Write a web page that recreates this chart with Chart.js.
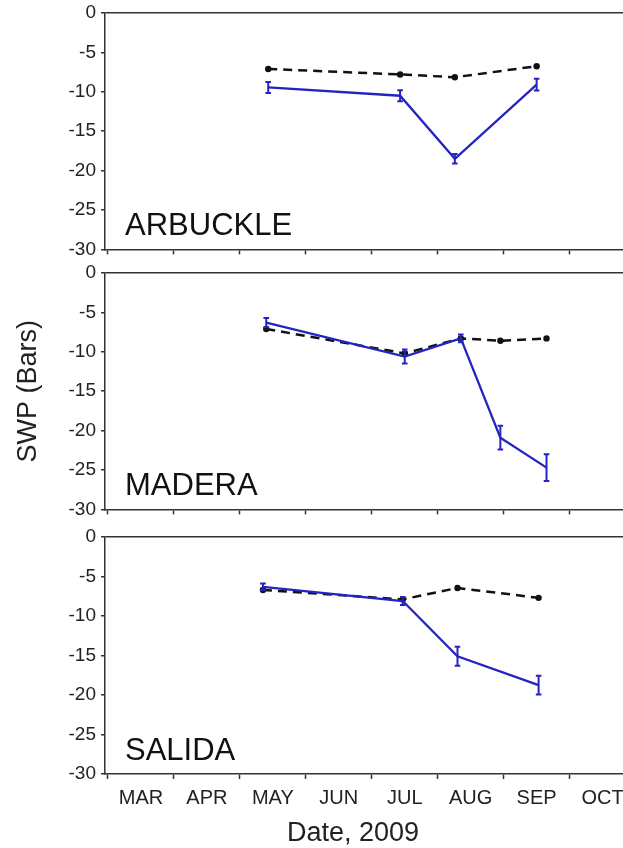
<!DOCTYPE html>
<html><head><meta charset="utf-8">
<script src="https://cdn.jsdelivr.net/npm/chart.js@4.4.0/dist/chart.umd.min.js"></script>
<style>
html,body{margin:0;padding:0;background:#fff;overflow:hidden;width:623px;height:848px;}
#wrap{position:relative;width:660px;height:848px;}
.panel{position:absolute;left:0;}
</style></head><body>
<div id="wrap">
<div class="panel" style="top:0px"><canvas id="c1" width="660" height="262"></canvas></div>
<div class="panel" style="top:260px"><canvas id="c2" width="660" height="262"></canvas></div>
<div class="panel" style="top:524px"><canvas id="c3" width="660" height="324"></canvas></div>
</div>
<script>
// Month categories (tick positions are month starts: 0 = Mar 1)
const months = ['MAR','APR','MAY','JUN','JUL','AUG','SEP','OCT'];
const yTickStep = 5;

// ARBUCKLE (dates in months since Mar 1)
const arbDates    = [2.43, 4.43, 5.26, 6.50];
const arbControl  = [-7.1, -7.8, -8.15, -6.75];
const arbStressed = [-9.45, -10.5, -18.5, -9.1];
const arbErr      = [0.7, 0.7, 0.6, 0.75];

// MADERA
const madDates    = [2.40, 4.50, 5.35, 5.95, 6.65];
const madControl  = [-7.1, -10.2, -8.3, -8.6, -8.3];
const madStressed = [-6.3, -10.6, -8.3, -20.9, -24.7];
const madErr      = [0.6, 0.9, 0.5, 1.5, 1.7];

// SALIDA
const salDates    = [2.35, 4.47, 5.30, 6.53];
const salControl  = [-6.7, -7.9, -6.45, -7.7];
const salStressed = [-6.3, -8.1, -15.1, -18.75];
const salErr      = [0.4, 0.5, 1.2, 1.2];

const FONT = '"Liberation Sans", Arial, sans-serif';
const INK = '#222';
const BLUE = '#2424c0';

const errorBars = {
  id: 'errorBars',
  afterDatasetsDraw(chart) {
    const ctx = chart.ctx, ys = chart.scales.y;
    chart.data.datasets.forEach((ds, di) => {
      if (!ds.errors) return;
      const meta = chart.getDatasetMeta(di);
      ctx.save();
      ctx.strokeStyle = ds.borderColor;
      ctx.lineWidth = 2;
      meta.data.forEach((pt, i) => {
        const v = ds.data[i].y, e = ds.errors[i];
        const top = ys.getPixelForValue(v + e), bot = ys.getPixelForValue(v - e), x = pt.x;
        ctx.beginPath();
        ctx.moveTo(x, top); ctx.lineTo(x, bot);
        ctx.moveTo(x - 2.8, top); ctx.lineTo(x + 2.8, top);
        ctx.moveTo(x - 2.8, bot); ctx.lineTo(x + 2.8, bot);
        ctx.stroke();
      });
      ctx.restore();
    });
  }
};

const siteLabel = {
  id: 'siteLabel',
  afterDraw(chart, args, opts) {
    const {ctx, chartArea} = chart;
    ctx.save();
    ctx.font = '31px ' + FONT;
    ctx.fillStyle = '#111';
    ctx.textBaseline = 'alphabetic';
    ctx.textAlign = 'left';
    ctx.fillText(opts.text, chartArea.left + 20, chartArea.bottom - 14);
    if (opts.caption) {
      ctx.font = '27px ' + FONT;
      ctx.fillStyle = INK;
      ctx.textAlign = 'center';
      ctx.textBaseline = 'middle';
      ctx.fillText(opts.caption, chartArea.left + 248, chartArea.bottom + 60);
    }
    ctx.restore();
  }
};

const xTickValues = [];
months.forEach((m, i) => { xTickValues.push(i, i + 0.5); });
xTickValues.push(months.length);

function makeChart(id, site, dates, control, stressed, errs, cfg) {
  const stressedData = dates.map((d, i) => ({x: d, y: stressed[i]}));
  const controlData = dates.map((d, i) => ({x: d, y: control[i]}));
  new Chart(document.getElementById(id), {
    type: 'line',
    data: {
      datasets: [
        {
          label: 'Stressed', data: stressedData, errors: errs,
          borderColor: BLUE, backgroundColor: BLUE, borderWidth: 2.3,
          pointRadius: 0, tension: 0, fill: false
        },
        {
          label: 'Control', data: controlData,
          borderColor: '#111', backgroundColor: '#111', borderWidth: 2.5,
          borderDash: [9, 6], pointRadius: 3.2, pointBorderWidth: 0,
          pointBackgroundColor: '#111', tension: 0, fill: false
        }
      ]
    },
    options: {
      responsive: false,
      animation: false,
      layout: {padding: {top: 13, left: 0, right: 0, bottom: 0}},
      plugins: {
        legend: {display: false},
        tooltip: {enabled: false},
        siteLabel: {text: site, caption: cfg.caption}
      },
      scales: {
        x: {
          type: 'linear',
          min: -0.045, max: 8.31,
          afterBuildTicks: s => { s.ticks = xTickValues.map(v => ({value: v})); },
          afterFit: s => { s.height = cfg.xHeight; },
          ticks: {
            display: cfg.showX,
            autoSkip: false, maxRotation: 0, minRotation: 0,
            padding: 7,
            color: INK,
            font: {family: FONT, size: 20},
            callback: v => Number.isInteger(v) ? '' : (months[Math.floor(v)] || '')
          },
          grid: {
            drawOnChartArea: false, drawTicks: true, tickLength: 5,
            tickWidth: 1.5,
            tickColor: c => (c.tick && Number.isInteger(c.tick.value)) ? '#333' : 'rgba(0,0,0,0)'
          },
          border: {display: true, color: '#333', width: 1.5}
        },
        y: {
          type: 'linear',
          min: -30, max: 0,
          afterFit: s => { s.width = 105; },
          ticks: {
            stepSize: yTickStep, color: INK, padding: 5,
            font: {family: FONT, size: 19, lineHeight: 0.8}
          },
          grid: {
            drawOnChartArea: true,
            color: c => (c.tick && c.tick.value === 0) ? '#333' : 'rgba(0,0,0,0)',
            lineWidth: 1.5,
            drawTicks: true, tickLength: 4, tickColor: '#333', tickWidth: 1.5
          },
          border: {display: true, color: '#333', width: 1.5},
          title: cfg.showY ? {
            display: true, text: 'SWP (Bars)', color: INK,
            font: {family: FONT, size: 27}, padding: {top: 12, bottom: 0}
          } : {display: false}
        }
      }
    },
    plugins: [errorBars, siteLabel]
  });
}

makeChart('c1', 'ARBUCKLE', arbDates, arbControl, arbStressed, arbErr, {showX: false, showY: false, xHeight: 12});
makeChart('c2', 'MADERA', madDates, madControl, madStressed, madErr, {showX: false, showY: true, xHeight: 12});
makeChart('c3', 'SALIDA', salDates, salControl, salStressed, salErr, {showX: true, showY: false, xHeight: 74, caption: 'Date, 2009'});
</script>
</body></html>
